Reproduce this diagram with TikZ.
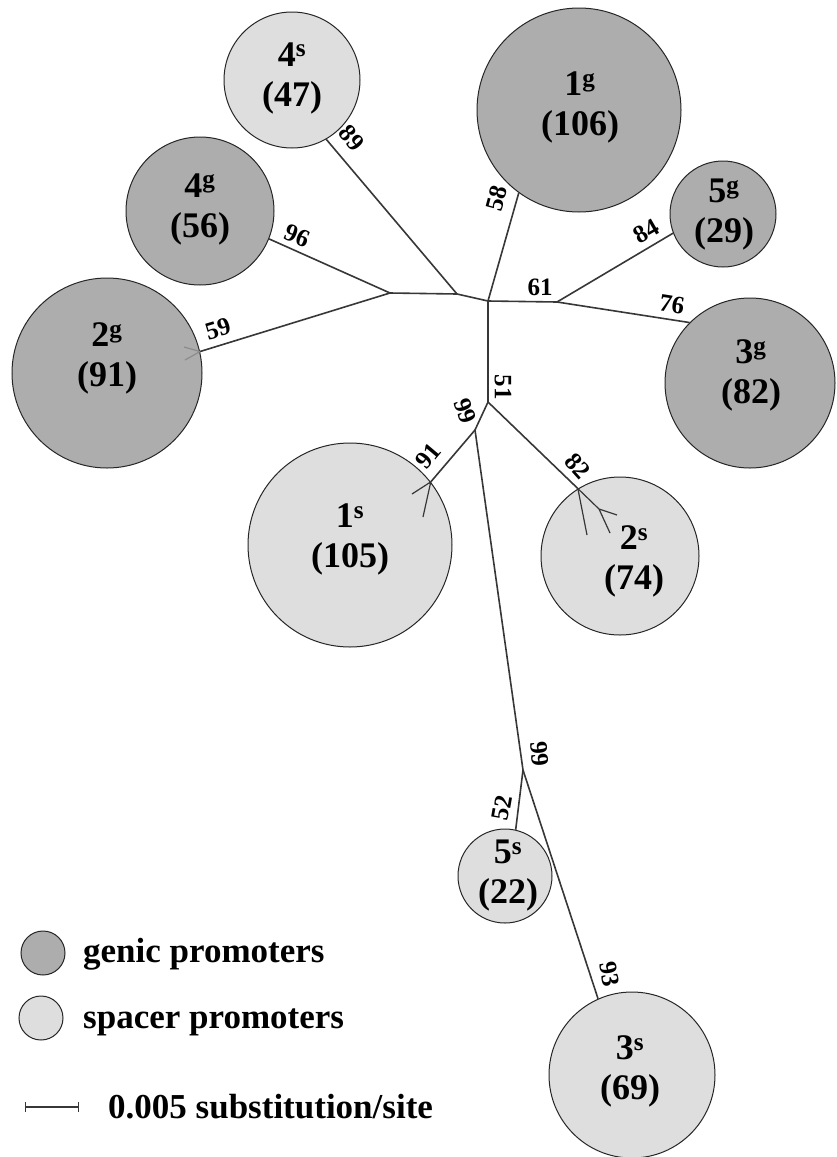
\documentclass[tikz,border=0pt]{standalone}
\usepackage{fontspec}
\setmainfont{Liberation Serif}
\usetikzlibrary{arrows.meta}
\definecolor{genicfill}{RGB}{173,173,173}
\definecolor{spacerfill}{RGB}{222,222,222}
\definecolor{branchcol}{RGB}{55,55,55}
\tikzset{
  gnode/.style={circle, draw=black!85, line width=1pt, fill=genicfill, inner sep=0pt},
  snode/.style={circle, draw=black!85, line width=1pt, fill=spacerfill, inner sep=0pt},
  ctext/.style={align=center, inner sep=0pt, font=\fontsize{36}{40}\selectfont\bfseries},
  blabel/.style={inner sep=0pt, font=\fontsize{25}{25}\selectfont\bfseries},
  keytext/.style={anchor=west, inner sep=0pt, font=\fontsize{35}{40}\selectfont\bfseries},
  branch/.style={draw=branchcol, line width=1.6pt},
  twig/.style={draw=branchcol, line width=1.2pt},
}
\begin{document}
\begin{tikzpicture}[x=1pt, y=-1pt]
    \useasboundingbox (0,0) rectangle (837,1157);
    % clusters
    \node[gnode, minimum size=204pt] (n1g) at (579,110) {};
    \node[gnode, minimum size=190pt] (n2g) at (107,373) {};
    \node[gnode, minimum size=170pt] (n3g) at (750,383) {};
    \node[gnode, minimum size=148pt] (n4g) at (200,211) {};
    \node[gnode, minimum size=106pt] (n5g) at (723,214) {};
    \node[snode, minimum size=204pt] (n1s) at (350,545) {};
    \node[snode, minimum size=158pt] (n2s) at (620,556) {};
    \node[snode, minimum size=166pt] (n3s) at (632,1075) {};
    \node[snode, minimum size=136pt] (n4s) at (292,80) {};
    \node[snode, minimum size=94pt] (n5s) at (505,876) {};
    %
    \node[ctext] (t1g) at (580,107) {1\textsuperscript{g}\\(106)};
    \node[ctext] (t2g) at (107,358) {2\textsuperscript{g}\\(91)};
    \node[ctext] (t3g) at (751,375) {3\textsuperscript{g}\\(82)};
    \node[ctext] (t4g) at (200,209) {4\textsuperscript{g}\\(56)};
    \node[ctext] (t5g) at (724,215) {5\textsuperscript{g}\\(29)};
    \node[ctext] (t1s) at (350,539) {1\textsuperscript{s}\\(105)};
    \node[ctext] (t2s) at (634,561) {2\textsuperscript{s}\\(74)};
    \node[ctext] (t3s) at (630,1071) {3\textsuperscript{s}\\(69)};
    \node[ctext] (t4s) at (292,78) {4\textsuperscript{s}\\(47)};
    \node[ctext] (t5s) at (508,876) {5\textsuperscript{s}\\(22)};
    % tree
    \coordinate (A) at (390,293);
    \coordinate (B) at (457,294);
    \coordinate (C) at (488,301);
    \coordinate (D) at (557,302);
    \coordinate (E) at (488,402);
    \coordinate (F) at (475,430);
    \coordinate (G) at (523,770);
    \draw[branch] (A) -- (B) -- (C) -- (D);
    \draw[branch] (C) -- (E) -- (F) -- (G);
    \draw[branch] (A) -- (n4g.338);
    \draw[branch] (A) -- (n2g.13);
    \draw[branch] (B) -- (n4s.300);
    \draw[branch] (C) -- (n1g.234);
    \draw[branch] (D) -- (n5g.201);
    \draw[branch] (D) -- (n3g.135);
    \draw[branch] (F) -- (n1s.38);
    \draw[branch] (E) -- (n2s.122);
    \draw[branch] (G) -- (n5s.77);
    \draw[branch] (G) -- (n3s.114);
    % tips inside clusters
    \coordinate (g2a) at (184,347);
    \coordinate (g2b) at (185,360);
    \draw[twig, draw=black!45] (n2g.13) -- (g2a) (n2g.13) -- (g2b);
    \coordinate (s1a) at (412,494);
    \coordinate (s1b) at (423,517);
    \draw[twig] (n1s.38) -- (s1a) (n1s.38) -- (s1b);
    \coordinate (s2a) at (587,535);
    \coordinate (s2m) at (599,509);
    \coordinate (s2b) at (617,515);
    \coordinate (s2c) at (610,533);
    \draw[twig] (n2s.122) -- (s2a) (n2s.122) -- (s2m) -- (s2b) (s2m) -- (s2c);
    % bootstrap values
    \node[blabel, rotate=-50] (b89) at (352,138) {89};
    \node[blabel, rotate=75] (b58) at (497,198) {58};
    \node[blabel, rotate=-22] (b96) at (297,236) {96};
    \node[blabel, rotate=17] (b59) at (218,329) {59};
    \node[blabel] (b61) at (540,287) {61};
    \node[blabel, rotate=30] (b84) at (646,231) {84};
    \node[blabel, rotate=-9] (b76) at (672,304) {76};
    \node[blabel, rotate=-90] (b51) at (503,387) {51};
    \node[blabel, rotate=-70] (b99a) at (465,411) {99};
    \node[blabel, rotate=50] (b91) at (428,456) {91};
    \node[blabel, rotate=-48] (b82) at (578,466) {82};
    \node[blabel, rotate=-85] (b99b) at (540,754) {99};
    \node[blabel, rotate=80] (b52) at (502,808) {52};
    \node[blabel, rotate=-80] (b93) at (610,974) {93};
    % legend
    \node[gnode, minimum size=44pt] (kg) at (43,953) {};
    \node[keytext] (kgt) at (83,954) {genic promoters};
    \node[snode, minimum size=44pt] (ks) at (41,1018) {};
    \node[keytext] (kst) at (83,1022) {spacer promoters};
    \coordinate (sb1) at (25,1107);
    \coordinate (sb2) at (79,1107);
    \draw[branchcol, line width=1.2pt, {Bar[width=10pt]}-{Bar[width=10pt]}] (sb1) -- (sb2);
    \node[keytext] (sbt) at (108,1107) {0.005 substitution/site};
\end{tikzpicture}
\end{document}
